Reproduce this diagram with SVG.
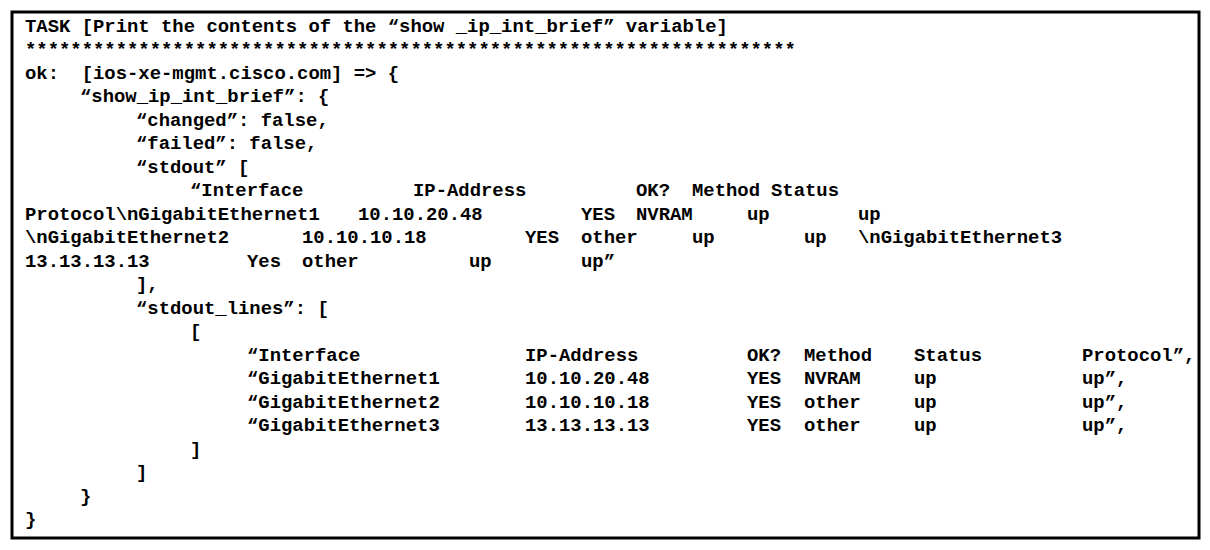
<svg xmlns="http://www.w3.org/2000/svg" width="1210" height="550" viewBox="0 0 1210 550">
<style>
text{font-family:"Liberation Mono","Courier New",monospace;font-size:18.9px;font-weight:bold;fill:#000;white-space:pre}
</style>
<rect x="0" y="0" width="1210" height="550" fill="#fff"/>
<rect x="12" y="12" width="1187" height="526" fill="none" stroke="#000" stroke-width="3"/>
<g id="text">
<text x="25" y="32">TASK [Print the contents of the “show _ip_int_brief” variable]</text>
<text x="25" y="55">********************************************************************</text>
<text x="25" y="79">ok:  [ios-xe-mgmt.cisco.com] =&gt; {</text>
<text x="80" y="102">“show_ip_int_brief”: {</text>
<text x="136" y="126">“changed”: false,</text>
<text x="136" y="149">“failed”: false,</text>
<text x="136" y="173">“stdout” [</text>
<text y="196"><tspan x="190">“Interface</tspan><tspan x="413">IP-Address</tspan><tspan x="636">OK?</tspan><tspan x="692">Method</tspan><tspan x="771">Status</tspan></text>
<text y="220"><tspan x="25">Protocol\nGigabitEthernet1</tspan><tspan x="358">10.10.20.48</tspan><tspan x="581">YES</tspan><tspan x="636">NVRAM</tspan><tspan x="747">up</tspan><tspan x="858">up</tspan></text>
<text y="243"><tspan x="25">\nGigabitEthernet2</tspan><tspan x="302">10.10.10.18</tspan><tspan x="525">YES</tspan><tspan x="581">other</tspan><tspan x="692">up</tspan><tspan x="804">up</tspan><tspan x="858">\nGigabitEthernet3</tspan></text>
<text y="267"><tspan x="25">13.13.13.13</tspan><tspan x="247">Yes</tspan><tspan x="302">other</tspan><tspan x="469">up</tspan><tspan x="581">up”</tspan></text>
<text x="136" y="290">],</text>
<text x="136" y="314">“stdout_lines”: [</text>
<text x="190" y="337">[</text>
<text y="361"><tspan x="247">“Interface</tspan><tspan x="525">IP-Address</tspan><tspan x="747">OK?</tspan><tspan x="804">Method</tspan><tspan x="914">Status</tspan><tspan x="1082">Protocol”,</tspan></text>
<text y="384"><tspan x="247">“GigabitEthernet1</tspan><tspan x="525">10.10.20.48</tspan><tspan x="747">YES</tspan><tspan x="804">NVRAM</tspan><tspan x="914">up</tspan><tspan x="1082">up”,</tspan></text>
<text y="408"><tspan x="247">“GigabitEthernet2</tspan><tspan x="525">10.10.10.18</tspan><tspan x="747">YES</tspan><tspan x="804">other</tspan><tspan x="914">up</tspan><tspan x="1082">up”,</tspan></text>
<text y="431"><tspan x="247">“GigabitEthernet3</tspan><tspan x="525">13.13.13.13</tspan><tspan x="747">YES</tspan><tspan x="804">other</tspan><tspan x="914">up</tspan><tspan x="1082">up”,</tspan></text>
<text x="190" y="455">]</text>
<text x="136" y="478">]</text>
<text x="80" y="502">}</text>
<text x="25" y="525">}</text>
</g>
</svg>
